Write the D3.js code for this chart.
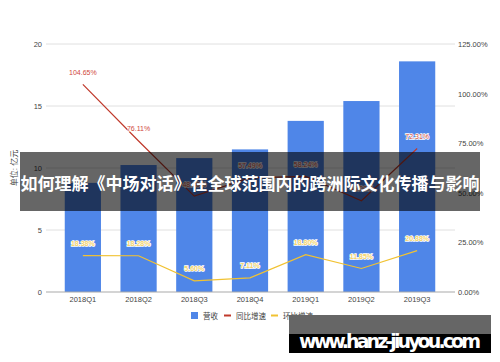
<!DOCTYPE html>
<html>
<head>
    <meta charset="utf-8">
    <script src="https://d3js.org/d3.v7.min.js"></script>
    <style>
        body { margin: 0; background: #fff; }
        svg { font-family: "Liberation Sans", "Noto Sans CJK SC", sans-serif; }
        .tick text { fill: #444; font-size: 7.5px; }
    </style>
</head>
<body>
    <script>
        // Chart data
        const quarters = ["2018Q1", "2018Q2", "2018Q3", "2018Q4", "2019Q1", "2019Q2", "2019Q3"];
        const revenue = [8.8, 10.24, 10.8, 11.5, 13.8, 15.4, 18.6];
        const yoy = [104.65, 76.11, 48.3, 57.49, 58.24, 46.0, 72.31];
        const qoq = [18.38, 18.28, 5.60, 7.11, 18.80, 11.85, 20.88];
        const leftTicks = [0, 5, 10, 15, 20];
        const rightTicks = [0, 25, 50, 75, 100, 125];
        const seriesNames = ["营收", "同比增速", "环比增速"];
        const bannerText = "如何理解《中场对话》在全球范围内的跨洲际文化传播与影响";
        const footerText = "www.hanz-jiuyou.com";

        const W = 500, H = 362;
        const colors = { bar: "#4f86e8", yoy: "#c0392b", qoq: "#f1c232" };

        const svg = d3.select("body").append("svg")
            .attr("width", W)
            .attr("height", H);

        // Scales
        const x = d3.scaleBand().domain(quarters).range([55, 445]).paddingInner(0.35).paddingOuter(0.175);
        const y = d3.scaleLinear().domain([0, 20]).range([292, 44]);
        const y2 = d3.scaleLinear().domain([0, 125]).range([292, 44]);

        // Grid lines
        svg.append("g").selectAll("line")
            .data(leftTicks.filter(d => d > 0))
            .join("line")
            .attr("x1", 46).attr("x2", 455)
            .attr("y1", d => y(d)).attr("y2", d => y(d))
            .attr("stroke", "#e0e0e0");

        // Left axis
        const yAxis = svg.append("g")
            .attr("transform", "translate(46,0)")
            .call(d3.axisLeft(y).tickValues(leftTicks).tickSize(0).tickPadding(4));
        yAxis.select(".domain").remove();

        // Right axis
        const y2Axis = svg.append("g")
            .attr("transform", "translate(455,0)")
            .call(d3.axisRight(y2).tickValues(rightTicks).tickSize(0).tickPadding(3)
                .tickFormat(d => d.toFixed(2) + "%"));
        y2Axis.select(".domain").remove();

        // Left axis title
        svg.append("text")
            .attr("transform", "translate(17,168) rotate(-90)")
            .attr("text-anchor", "middle")
            .attr("font-size", 8)
            .attr("fill", "#444")
            .text("单位: 亿元");

        // Bars
        svg.append("g").selectAll("rect")
            .data(revenue)
            .join("rect")
            .attr("x", (d, i) => x(quarters[i]))
            .attr("y", d => y(d))
            .attr("width", x.bandwidth())
            .attr("height", d => y(0) - y(d))
            .attr("fill", colors.bar);

        // Baseline
        svg.append("line")
            .attr("x1", 46).attr("x2", 455)
            .attr("y1", y(0)).attr("y2", y(0))
            .attr("stroke", "#aaa").attr("stroke-width", 1.2);

        // X axis labels
        const xAxis = svg.append("g")
            .attr("transform", `translate(0,${y(0)})`)
            .call(d3.axisBottom(x).tickSize(0).tickPadding(5));
        xAxis.select(".domain").remove();

        // Lines
        const cx = i => x(quarters[i]) + x.bandwidth() / 2;
        const line = d3.line().x((d, i) => cx(i)).y(d => y2(d));

        [[yoy, colors.yoy, "normal", "#d0473a"], [qoq, colors.qoq, "bold", "#f3d36a"]].forEach(([data, c, fw, lc]) => {
            svg.append("path")
                .datum(data)
                .attr("d", line)
                .attr("fill", "none")
                .attr("stroke", c)
                .attr("stroke-width", 1.2);

            svg.append("g").selectAll("text")
                .data(data)
                .join("text")
                .attr("x", (d, i) => cx(i))
                .attr("y", d => y2(d) - 9.5)
                .attr("text-anchor", "middle")
                .attr("font-size", 7)
                .attr("font-weight", fw)
                .attr("fill", lc)
                .attr("stroke", "#fff")
                .attr("stroke-width", 1.5)
                .attr("paint-order", "stroke")
                .text(d => d.toFixed(2) + "%");
        });

        // Legend
        const legend = svg.append("g").attr("font-size", 7.5).attr("fill", "#444");
        legend.append("rect").attr("x", 191).attr("y", 312).attr("width", 7).attr("height", 7).attr("fill", colors.bar);
        legend.append("text").attr("x", 203).attr("y", 318.5).text(seriesNames[0]);
        legend.append("line").attr("x1", 224).attr("x2", 231).attr("y1", 315.5).attr("y2", 315.5)
            .attr("stroke", colors.yoy).attr("stroke-width", 2);
        legend.append("text").attr("x", 236).attr("y", 318.5).text(seriesNames[1]);
        legend.append("line").attr("x1", 271).attr("x2", 278).attr("y1", 315.5).attr("y2", 315.5)
            .attr("stroke", colors.qoq).attr("stroke-width", 2);
        legend.append("text").attr("x", 283).attr("y", 318.5).text(seriesNames[2]);

        // Title banner overlay
        svg.append("rect")
            .attr("x", 20).attr("y", 152).attr("width", 460).attr("height", 59)
            .attr("fill", "rgba(0,0,0,0.6)");
        svg.append("text")
            .attr("x", 250).attr("y", 190)
            .attr("text-anchor", "middle")
            .attr("font-family", "Noto Sans CJK SC")
            .attr("font-size", 17)
            .attr("font-weight", "bold")
            .attr("fill", "#fff")
            .attr("textLength", 459)
            .text(bannerText);

        // Footer watermark
        svg.append("rect")
            .attr("x", 289).attr("y", 315).attr("width", 202).attr("height", 38)
            .attr("fill", "#000");
        svg.append("rect")
            .attr("x", 289).attr("y", 315).attr("width", 202).attr("height", 19)
            .attr("fill", "#666");
        svg.append("text")
            .attr("x", 390).attr("y", 348)
            .attr("text-anchor", "middle")
            .attr("font-family", "DejaVu Sans")
            .attr("font-size", 19)
            .attr("font-weight", "bold")
            .attr("fill", "#fff")
            .attr("textLength", 182)
            .text(footerText);
    </script>
</body>
</html>
